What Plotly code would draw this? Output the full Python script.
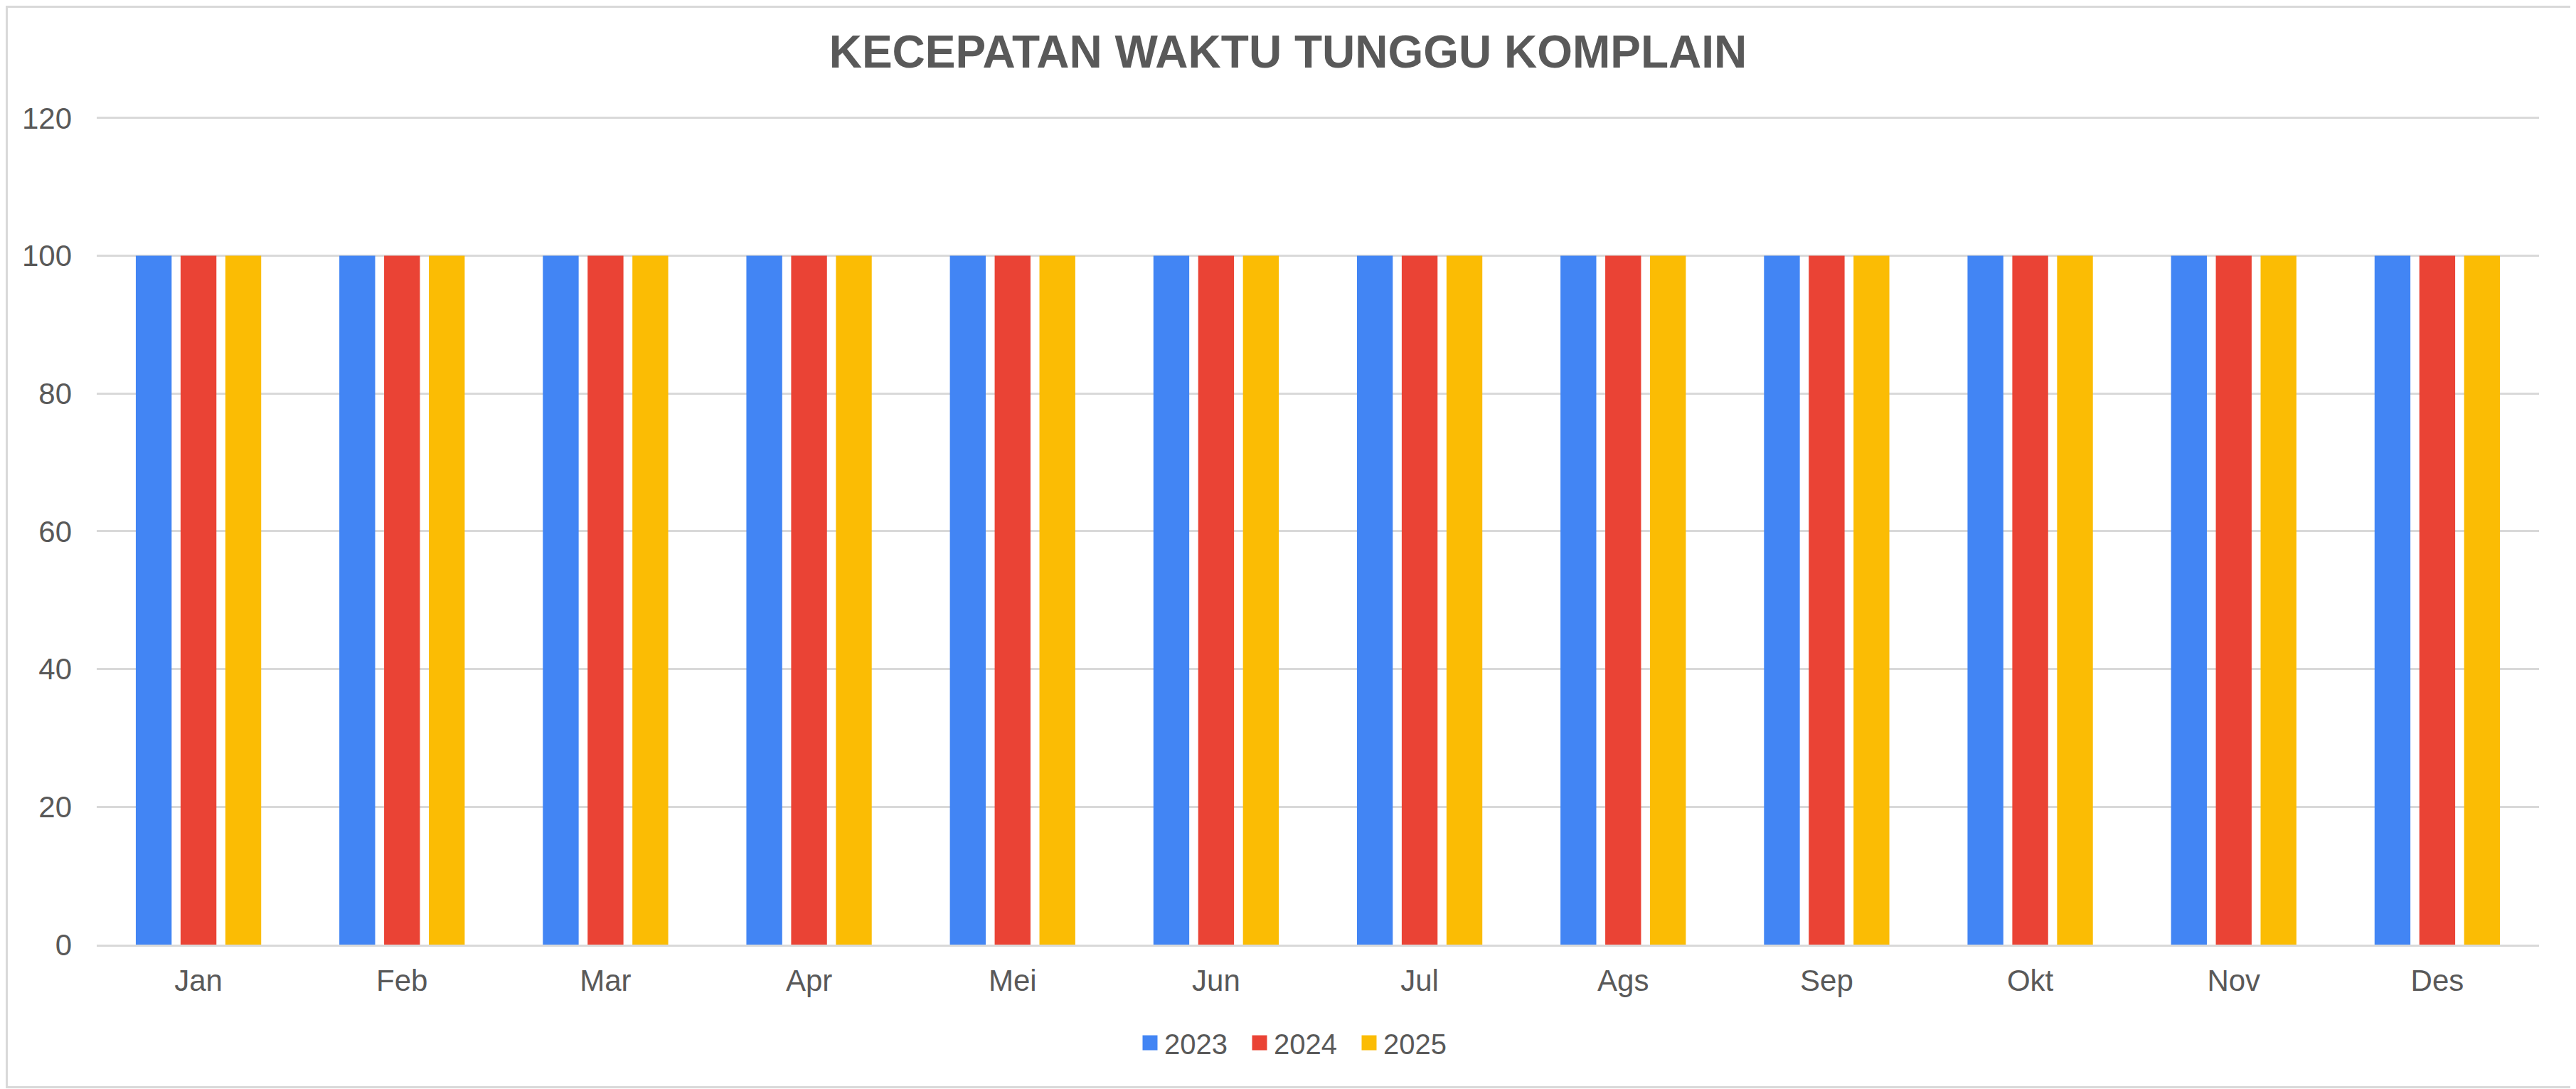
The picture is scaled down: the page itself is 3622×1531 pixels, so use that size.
import plotly.graph_objects as go

# data
bulan = ['Jan', 'Feb', 'Mar', 'Apr', 'Mei', 'Jun', 'Jul', 'Ags', 'Sep', 'Okt', 'Nov', 'Des']
tahun = ['2023', '2024', '2025']
nilai_2023 = [100, 100, 100, 100, 100, 100, 100, 100, 100, 100, 100, 100]
nilai_2024 = [100, 100, 100, 100, 100, 100, 100, 100, 100, 100, 100, 100]
nilai_2025 = [100, 100, 100, 100, 100, 100, 100, 100, 100, 100, 100, 100]
warna = ['#4285F4', '#EA4335', '#FBBC04']

# the page body adds an 8px margin, so the figure is 8px smaller than the window
W, H = 3614, 1523
ML, MR, MT, MB = 128, 52, 152, 203
PW, PH = W - ML - MR, H - MT - MB

TEXT = '#595959'
GRID = '#d9d9d9'
FONT = 'Liberation Sans, Arial, sans-serif'

fig = go.Figure()
for name, vals, col in zip(tahun, [nilai_2023, nilai_2024, nilai_2025], warna):
    fig.add_trace(go.Bar(x=bulan, y=vals, name=name, marker_color=col,
                         marker_line_width=0, showlegend=False, legendgroup=name))
    # legend-only marker so the legend square is bigger than plotly's bar swatch
    fig.add_trace(go.Scatter(x=[None], y=[None], mode='markers', name=name,
                             legendgroup=name,
                             marker=dict(symbol='square', size=16, color=col,
                                         line=dict(width=5, color=col))))

fig.update_layout(
    width=W, height=H,
    margin=dict(l=ML, r=MR, t=MT, b=MB),
    paper_bgcolor='white', plot_bgcolor='white',
    barmode='group', bargap=0.34, bargroupgap=0.2,
    font=dict(family=FONT, color=TEXT, size=42),
    title=dict(text='<b>KECEPATAN WAKTU TUNGGU KOMPLAIN</b>',
               x=1803 / W, xanchor='center', xref='container',
               y=1 - 65 / H, yanchor='middle', yref='container',
               font=dict(family=FONT, size=64, color=TEXT)),
    legend=dict(orientation='h', x=(1820 - ML) / PW, xanchor='center',
                y=-(1458 - (MT + PH)) / PH, yanchor='middle',
                entrywidth=109,
                font=dict(family=FONT, size=40, color=TEXT),
                bgcolor='rgba(0,0,0,0)'),
    shapes=[dict(type='rect', xref='paper', yref='paper',
                 x0=(1.5 - ML) / PW, x1=(3611.5 - ML) / PW,
                 y0=-(MB - 2.5) / PH, y1=1 + (MT - 1.5) / PH,
                 line=dict(color=GRID, width=3), layer='below')],
)

fig.update_xaxes(showgrid=False, showline=True, linecolor=GRID, linewidth=3,
                 ticks='', ticklabelstandoff=12, automargin=False,
                 tickfont=dict(size=42, color=TEXT))
fig.update_yaxes(range=[0, 120.6], tickvals=[0, 20, 40, 60, 80, 100, 120],
                 showgrid=True, gridcolor=GRID,
                 gridwidth=3, zeroline=False, showline=False, ticks='',
                 ticklabelstandoff=34, automargin=False,
                 tickfont=dict(size=42, color=TEXT))

fig.write_html('out.html')
